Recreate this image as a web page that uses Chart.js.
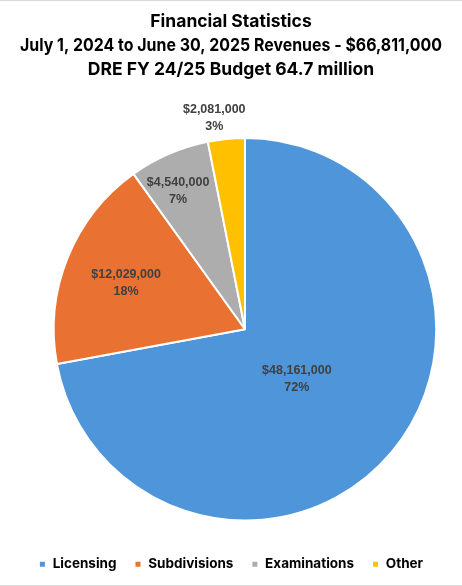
<!DOCTYPE html>
<html>
<head>
<meta charset="utf-8">
<script src="https://cdn.jsdelivr.net/npm/chart.js@4.4.1/dist/chart.umd.min.js"></script>
<style>
    html, body { margin: 0; padding: 0; background: #fff; }
    #wrap {
        width: 462px;
        height: 584px;
        border-top: 1px solid #d9d9d9;
        border-bottom: 1px solid #d9d9d9;
    }
    canvas { display: block; }
</style>
</head>
<body>
<div id="wrap"><canvas id="pieChart" width="462" height="584"></canvas></div>
<script>
// Chart data
const categories = ['Licensing', 'Subdivisions', 'Examinations', 'Other'];
const revenues = [48161000, 12029000, 4540000, 2081000];
const titleLines = [
    'Financial Statistics',
    'July 1, 2024 to June 30, 2025 Revenues - $66,811,000',
    'DRE FY 24/25 Budget 64.7 million'
];

const sliceColors = ['#4e95d9', '#e97132', '#adadad', '#ffc000'];

// Label placement: distance from center (fraction of radius) and small nudges
const labelRadius = [0.38, 0.67, 0.8, 1.11];
const labelNudgeX = [-4, 0, -6, -10];
const labelNudgeY = [3, 1, 2, 0];

function formatMoney(v) {
    return '$' + v.toLocaleString('en-US');
}

// The pie sits a little right of the title/legend centre line,
// with a wider gap above the legend
const shiftPie = {
    id: 'shiftPie',
    afterLayout(chart) {
        const area = chart.chartArea;
        area.left += 14;
        area.right += 14;
        area.top -= 2;
        area.bottom -= 18;
        area.height = area.bottom - area.top;
    }
};

// Draws the value and percent labels on each slice
const sliceLabels = {
    id: 'sliceLabels',
    afterDatasetsDraw(chart) {
        const ctx = chart.ctx;
        const meta = chart.getDatasetMeta(0);
        const data = chart.data.datasets[0].data;
        const total = data.reduce((a, b) => a + b, 0);

        ctx.save();
        ctx.font = 'bold 12.5px "Liberation Sans", Arial, sans-serif';
        ctx.fillStyle = '#404040';
        ctx.textAlign = 'center';
        ctx.textBaseline = 'middle';

        meta.data.forEach((arc, i) => {
            const mid = (arc.startAngle + arc.endAngle) / 2;
            const r = arc.outerRadius * labelRadius[i];
            const x = arc.x + Math.cos(mid) * r + labelNudgeX[i];
            const y = arc.y + Math.sin(mid) * r + labelNudgeY[i];
            const pct = Math.round(data[i] / total * 100) + '%';
            ctx.fillText(formatMoney(data[i]), x, y - 8);
            ctx.fillText(pct, x, y + 9);
        });
        ctx.restore();
    }
};

const ctx = document.getElementById('pieChart').getContext('2d');
new Chart(ctx, {
    type: 'pie',
    data: {
        labels: categories,
        datasets: [{
            data: revenues,
            backgroundColor: sliceColors,
            borderColor: '#ffffff',
            borderWidth: 2
        }]
    },
    options: {
        responsive: false,
        animation: false,
        layout: {
            padding: { left: 20, right: 20, top: 0, bottom: 4 }
        },
        plugins: {
            tooltip: { enabled: false },
            title: {
                display: true,
                text: titleLines,
                color: '#000000',
                font: { family: 'Inter, "Open Sans", sans-serif', size: 17.5, weight: 'bold', lineHeight: 24 / 17.5 },
                padding: { top: 9, bottom: 57 }
            },
            legend: {
                position: 'bottom',
                labels: {
                    color: '#000000',
                    font: { family: 'Inter, "Open Sans", sans-serif', size: 13.5, weight: 'bold' },
                    boxWidth: 7,
                    boxHeight: 7,
                    padding: 18
                }
            }
        }
    },
    plugins: [shiftPie, sliceLabels]
});
</script>
</body>
</html>
